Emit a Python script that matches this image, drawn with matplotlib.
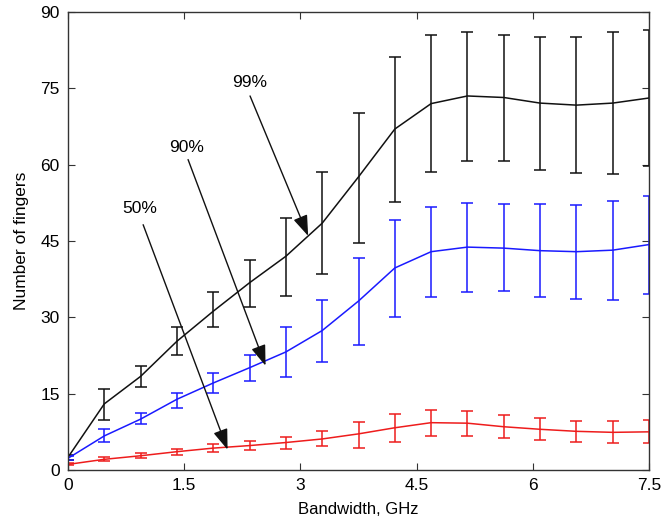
import matplotlib
matplotlib.use("Agg")
import matplotlib.pyplot as plt
import numpy as np

plt.rcParams['font.family'] = ['Liberation Sans', 'DejaVu Sans']

# Data
bandwidth = [i * 7.5 / 16 for i in range(17)]

p99_mean = [2.5, 13.0, 18.4, 25.3, 31.2, 36.8, 42.0, 48.5, 57.6, 67.0, 72.0, 73.5, 73.2, 72.1, 71.7, 72.1, 73.1]
p99_upper = [3.0, 16.0, 20.4, 28.1, 35.0, 41.3, 49.6, 58.6, 70.2, 81.1, 85.5, 86.1, 85.5, 85.1, 85.1, 86.0, 86.5]
p99_lower = [2.0, 9.8, 16.3, 22.6, 28.1, 32.0, 34.2, 38.6, 44.7, 52.7, 58.6, 60.7, 60.7, 58.9, 58.3, 58.2, 59.7]

p90_mean = [2.3, 6.7, 10.0, 13.9, 17.1, 20.1, 23.2, 27.4, 33.2, 39.7, 42.9, 43.8, 43.6, 43.1, 42.9, 43.2, 44.3]
p90_upper = [2.8, 8.0, 11.2, 15.2, 19.1, 22.6, 28.1, 33.4, 41.7, 49.1, 51.7, 52.5, 52.2, 52.2, 52.0, 52.8, 53.8]
p90_lower = [1.9, 5.5, 9.0, 12.2, 15.1, 17.5, 18.3, 21.2, 24.6, 30.1, 34.0, 35.0, 35.2, 34.0, 33.6, 33.5, 34.6]

p50_mean = [1.1, 2.1, 2.8, 3.6, 4.3, 4.8, 5.4, 6.1, 7.1, 8.3, 9.3, 9.2, 8.5, 8.0, 7.6, 7.4, 7.5]
p50_upper = [1.3, 2.5, 3.3, 4.1, 5.1, 5.7, 6.5, 7.6, 9.5, 11.0, 11.8, 11.5, 10.8, 10.2, 9.7, 9.6, 9.8]
p50_lower = [0.9, 1.8, 2.3, 3.0, 3.5, 3.9, 4.1, 4.7, 4.4, 5.6, 6.7, 6.7, 6.3, 5.9, 5.6, 5.4, 5.3]

xticks = [0, 1.5, 3, 4.5, 6, 7.5]
xticklabels = ['0', '1.5', '3', '4.5', '6', '7.5']
yticks = [0, 15, 30, 45, 60, 75, 90]

fig = plt.figure(figsize=(6.62, 5.26), dpi=100)
ax = fig.add_axes([68 / 662, 56 / 526, 581 / 662, 458 / 526])

series = [
    (p99_mean, p99_lower, p99_upper, '#111111'),
    (p90_mean, p90_lower, p90_upper, '#1a1aff'),
    (p50_mean, p50_lower, p50_upper, '#ee1c1c'),
]
for mean, lo, hi, col in series:
    m = np.array(mean)
    yerr = [m - np.array(lo), np.array(hi) - m]
    ax.errorbar(bandwidth, m, yerr=yerr, color=col, ecolor=col, lw=1.1,
                elinewidth=1.1, capsize=4.5, capthick=1.1)

ax.set_xlim(0, 7.5)
ax.set_ylim(0, 90)
ax.set_xticks(xticks)
ax.set_xticklabels(xticklabels)
ax.set_yticks(yticks)
ax.tick_params(direction='in', top=True, right=True, length=5, labelsize=12.5,
               color='#333333', pad=6)
for s in ax.spines.values():
    s.set_color('#333333')
    s.set_linewidth(1.0)

ax.set_xlabel('Bandwidth, GHz', fontsize=12, labelpad=6)
ax.set_ylabel('Number of fingers', fontsize=12.5, labelpad=8)

annotations = [
    ('99%', (2.35, 76.2), (2.35, 73.5), (3.1, 46.0)),
    ('90%', (1.53, 63.4), (1.55, 61.0), (2.55, 20.5)),
    ('50%', (0.93, 51.3), (0.97, 48.2), (2.06, 4.0)),
]
for label, tpos, tail, head in annotations:
    ax.text(tpos[0], tpos[1], label, fontsize=12.5, ha='center', va='center')
    ax.annotate('', xy=head, xytext=tail,
                arrowprops=dict(arrowstyle='-|>,head_length=0.7,head_width=0.25',
                                color='#111111', lw=1.0, mutation_scale=18,
                                shrinkA=0, shrinkB=0))

fig.savefig('out.png', dpi=100)
